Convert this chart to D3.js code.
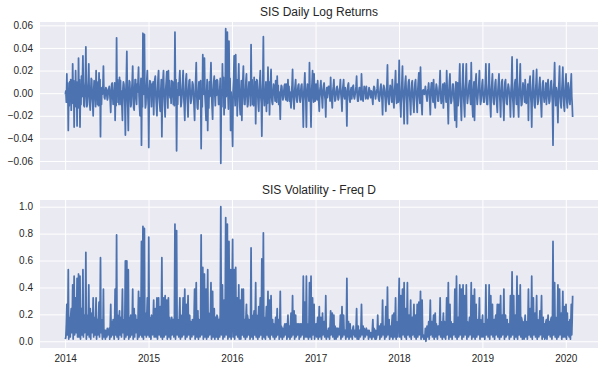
<!DOCTYPE html>
<html><head><meta charset="utf-8">
<script src="https://cdn.jsdelivr.net/npm/d3@7"></script>
<style>
body{margin:0;background:#fff}
svg{display:block}
text{font-family:"Liberation Sans",Arial,sans-serif;fill:#262626}
</style></head>
<body><svg id="chart" width="604" height="372"></svg>
<script>
// ---- data (daily log returns) ----
const ret2014 = [-.001,.002,-.008,.017,-.003,.009,-.033,.001,-.011,.010,-.002,.012,-.015,.004,-.009,.026,-.001,.011,-.030,.003,-.012,.020,-.004,.010,-.029,.002,-.013,.031,-.002,.012,-.030,.001,-.010,.015,-.003,.012,.033,.002,-.011,-.012,.004,.010,.041,-.001,-.012,-.010,.003,.011,.026,-.002,-.010,-.015,.001,.013,.012,-.004,-.009,-.020,.002,.011,.010,-.003,-.012,.020,.001,.010,-.010,.003,-.011,.018,-.002,.012,-.0385,.004,-.010,.005,-.001,.005,.024,.002,-.004,-.005,.001,.005,.004,-.002,-.006,-.004,.003,.004,.006,-.001,-.007,-.017,.002,.008,.009,-.003,-.010,-.005,.001,.009,-.024,.003,-.011,.049,-.002,.012,-.008,.001,-.010,.014,-.003,.011,-.010,.002,-.012,-.024,.004,.010,.008,-.001,-.011,-.037,.002,.012,.037,-.003,-.013,-.033,.001,.011,.010,-.002,-.012,-.010,.003,.010,.024,-.001,-.013,-.015,.002,.012,.012,-.004,-.010,.008,.001,.011,.023,-.002,-.012,-.020,.003,.013,-.046,.002,-.012,.053,-.001,.014,.052,.003,-.013,-.010,.002,.012,.020,-.003,-.011];
const ret2015 = [-.048,.002,.011,.010,-.001,-.012,.008,-.003,.010,-.019,.002,.012,.015,-.002,-.011,-.020,.001,.013,.020,-.003,-.010,-.016,.002,.012,-.0385,.001,.011,.020,-.002,-.012,-.021,.003,.010,.019,-.001,-.013,.020,-.002,.011,-.004,.001,-.009,.011,-.003,.010,-.010,.002,-.011,.054,-.001,.012,-.051,.003,-.010,.009,-.002,.011,.020,.001,-.012,-.008,.002,.010,.020,-.003,-.011,-.024,.001,.012,.017,-.002,-.010,-.021,.003,.011,.012,-.001,-.009,-.006,.002,.010,.008,-.003,-.011,-.024,.001,.012,.027,-.002,-.013,-.014,.001,.010,-.005,.002,.011,-.049,.003,-.012,.034,-.001,.013,.031,-.002,-.011,-.024,.001,.012,-.033,.002,-.013,.010,-.003,.011,.027,.001,-.012,-.023,.002,.010,.015,-.001,-.011,.011,-.002,.012,.011,.001,-.010,-.010,.002,.013,-.062,.003,-.012,.026,-.001,.014,-.019,.002,-.013,.057,-.003,.012,.054,.001,-.014,.046,-.002,.013,-.033,.001,-.012];
const ret2016 = [-.047,.002,.012,.033,-.001,-.011,.034,-.003,.012,-.020,.002,.010,.026,-.001,-.012,-.019,.001,.011,-.024,.003,.012,.024,-.002,-.010,-.010,.001,.011,.017,-.002,-.012,-.010,.003,.010,.008,-.001,-.011,.043,-.002,.012,-.010,.001,-.011,.014,-.003,.010,-.027,.002,.012,.011,-.001,-.010,-.016,.002,.011,.020,-.003,-.009,-.038,.001,.012,.050,-.002,-.011,.002,.001,.010,-.016,.003,-.009,.023,-.002,.010,-.019,.001,.009,.021,-.003,-.008,-.010,.002,.008,.005,-.001,-.007,.011,.002,-.008,.015,-.003,.007,-.010,.001,-.008,-.023,.002,.007,.006,-.001,-.006,-.004,.002,.007,.008,-.003,-.006,.008,.001,-.007,.012,-.002,.006,-.007,.001,-.008,-.013,.002,.007,.021,-.003,-.008,-.014,.001,.007,.012,-.002,-.006,-.008,.003,.007,.008,-.001,-.006,-.008,.002,.007,.008,-.003,-.008,-.030,.001,.008,.018,-.002,-.007,-.030,.002,.008,.005,-.001,-.007,.027,.002,-.008,-.030,.001,.009,.020,-.003,-.008,.017,.001,-.007];
const ret2017 = [.008,-.002,-.006,.011,.001,-.007,-.016,.002,.006,.011,-.001,-.005,-.013,.003,.007,.009,-.002,-.006,-.021,.001,.005,-.004,.002,.006,.006,-.001,-.007,.014,-.003,-.005,-.013,.002,.006,.012,-.001,-.007,-.006,.001,.005,.006,-.002,-.006,-.004,.003,.005,.012,-.001,-.006,-.016,.002,.007,.012,-.003,-.005,.005,.001,-.006,-.029,.002,.007,.009,-.001,-.006,-.008,.002,.005,-.005,.001,.006,.007,-.003,-.005,-.002,.002,.006,.015,-.001,-.007,-.007,.001,.005,.005,-.002,-.006,.017,.003,-.005,-.007,-.001,.006,.004,.002,-.005,.006,-.003,-.004,-.005,.001,.005,.003,-.002,-.004,.002,.001,-.005,-.010,.002,.006,.005,-.001,-.005,-.001,.002,.004,.012,-.003,-.006,-.007,.001,.005,.008,-.002,-.006,-.019,.003,.007,.005,-.001,-.006,-.016,.002,.007,.025,-.003,-.008,-.010,.001,.007,.005,-.002,-.008,.012,.001,-.007,-.013,.002,.008,.020,-.001,-.009,.008,.002,-.008];
const ret2018 = [.029,-.002,-.009,-.021,.001,.010,.024,-.003,-.009,-.027,.002,.010,.015,-.001,-.009,-.027,.003,.010,.012,-.002,-.008,-.019,.001,.009,.011,-.003,-.010,-.017,.002,.009,.012,-.001,-.008,-.017,.002,.010,.018,-.003,-.009,.023,.001,-.010,-.019,.002,.003,.001,-.001,.002,.006,.000,-.003,-.007,.002,.004,.009,-.001,-.008,-.019,.003,.009,.009,-.002,-.008,.012,.001,-.009,-.013,.002,.008,.005,-.001,-.007,-.007,.003,.008,.020,-.002,-.009,-.005,.001,.008,-.013,.002,.009,.002,-.001,-.008,.020,.003,-.009,-.027,.001,.010,.017,-.002,-.009,-.007,.001,.008,.008,-.003,-.009,-.024,.002,.010,-.030,.001,.009,-.011,.002,.010,.026,-.003,-.011,-.024,.001,.010,.026,-.002,-.011,-.021,.003,.010,.026,-.001,-.009,-.004,.002,.008,.011,-.003,-.010,.027,.001,-.011,-.021,.002,.010,-.024,.001,.011,.017,-.002,-.010,-.004,.003,.009,.020,-.001,-.010,-.007,.002,.009];
const ret2019 = [.012,-.002,-.008,-.008,.001,.009,.026,-.003,-.010,-.010,.002,.009,.026,-.001,-.010,-.021,.003,.009,.017,-.002,-.008,-.010,.001,.009,.012,-.003,-.010,-.017,.002,.009,.017,-.001,-.008,-.021,.002,.010,.012,-.003,-.009,-.024,.001,.010,.012,-.002,-.009,-.010,.003,.008,.005,-.001,-.007,-.021,.002,.009,.032,-.003,-.010,-.021,.001,.009,.012,-.002,-.010,.030,.001,-.009,-.021,.003,.010,.026,-.002,-.011,-.010,.001,.009,.005,-.001,-.008,.012,.002,-.009,-.008,-.001,.008,-.024,.003,.010,.015,-.002,-.009,-.030,.001,.010,.020,-.003,-.011,-.013,.002,.009,.021,-.001,-.010,-.007,.002,.009,.014,-.003,-.010,-.021,.001,.009,.011,-.002,-.008,-.001,.002,.009,-.010,.001,.008,.012,-.003,-.009,-.007,.002,.010,.011,-.001,-.009,-.046,.003,.010,.027,-.002,-.011,.005,.001,-.009,-.026,.002,.010,.024,-.003,-.009,-.013,.001,.010,.023,-.002,-.011,-.016,.002,.010];
const ret2020 = [.017,-.001,-.008,-.013,.003,.009,.005,-.002,-.008,-.010,.001,.009,.017,-.003,-.010,-.021];

// first / last trading day covered by each yearly block
const yearBlocks = [
  {values: ret2014, from: "2014-01-02", to: "2014-12-31"},
  {values: ret2015, from: "2015-01-02", to: "2015-12-31"},
  {values: ret2016, from: "2016-01-04", to: "2016-12-30"},
  {values: ret2017, from: "2017-01-03", to: "2017-12-29"},
  {values: ret2018, from: "2018-01-02", to: "2018-12-31"},
  {values: ret2019, from: "2019-01-02", to: "2019-12-31"},
  {values: ret2020, from: "2020-01-02", to: "2020-01-31"}
];

const yearTicks = ["2014","2015","2016","2017","2018","2019","2020"];
const retTicks = [-0.06,-0.04,-0.02,0,0.02,0.04,0.06];
const volTicks = [0,0.2,0.4,0.6,0.8,1.0];
const titles = ["SIS Daily Log Returns","SIS Volatility - Freq D"];

// ---- build series ----
const parse = d3.timeParse("%Y-%m-%d");
const returns = [];
yearBlocks.forEach(b => {
  const t0 = parse(b.from).getTime(), t1 = parse(b.to).getTime(), n = b.values.length;
  b.values.forEach((v, i) => returns.push({date: new Date(t0 + (t1 - t0) * i / (n - 1)), value: v}));
});
// volatility = |return| scaled by the largest absolute return
const maxAbs = d3.max(returns, d => Math.abs(d.value));
const volatility = returns.map(d => ({date: d.date, value: Math.abs(d.value) / maxAbs}));

// ---- drawing ----
const svg = d3.select("#chart");
const L = 40, R = 598;
const panels = [
  {top: 22, bottom: 170, data: returns, ticks: retTicks, fmt: d3.format(".2f"), title: titles[0], xlabels: false},
  {top: 200, bottom: 348, data: volatility, ticks: volTicks, fmt: d3.format(".1f"), title: titles[1], xlabels: true}
];

const tExt = d3.extent(returns, d => d.date);
const tPad = (tExt[1] - tExt[0]) * 0.05;
const x = d3.scaleTime().domain([new Date(+tExt[0] - tPad), new Date(+tExt[1] + tPad)]).range([L, R]);
const yearDates = yearTicks.map(y => parse(y + "-01-01"));

panels.forEach((p, k) => {
  const ext = d3.extent(p.data, d => d.value);
  const pad = (ext[1] - ext[0]) * 0.05;
  const y = d3.scaleLinear().domain([ext[0] - pad, ext[1] + pad]).range([p.bottom, p.top]);
  const h = p.bottom - p.top, w = R - L;
  const g = svg.append("g");
  g.append("rect").attr("x", L).attr("y", p.top).attr("width", w).attr("height", h).attr("fill", "#EAEAF2");

  const gx = g.append("g").attr("transform", `translate(0,${p.bottom})`)
    .call(d3.axisBottom(x).tickValues(yearDates).tickSize(-h).tickFormat(""));
  const gy = g.append("g").attr("transform", `translate(${L},0)`)
    .call(d3.axisLeft(y).tickValues(p.ticks).tickSize(-w).tickFormat(""));
  [gx, gy].forEach(a => {
    a.select(".domain").remove();
    a.selectAll("line").attr("stroke", "#fff").attr("stroke-width", 1);
  });

  const ly = g.append("g").attr("transform", `translate(${L},0)`)
    .call(d3.axisLeft(y).tickValues(p.ticks).tickSize(0).tickPadding(7).tickFormat(p.fmt));
  ly.select(".domain").remove();
  ly.selectAll("text").attr("font-size", 10).attr("font-family", null).attr("fill", "#262626");
  if (p.xlabels) {
    const lx = g.append("g").attr("transform", `translate(0,${p.bottom})`)
      .call(d3.axisBottom(x).tickValues(yearDates).tickSize(0).tickPadding(7).tickFormat((d, i) => yearTicks[i]));
    lx.select(".domain").remove();
    lx.selectAll("text").attr("font-size", 10).attr("font-family", null).attr("fill", "#262626");
  }

  const clipId = "clip" + k;
  svg.append("clipPath").attr("id", clipId).append("rect")
    .attr("x", L).attr("y", p.top).attr("width", w).attr("height", h);
  g.append("path").datum(p.data)
    .attr("clip-path", `url(#${clipId})`)
    .attr("fill", "none").attr("stroke", "#4C72B0").attr("stroke-width", 1.75)
    .attr("stroke-linejoin", "round")
    .attr("d", d3.line().x(d => x(d.date)).y(d => y(d.value)));

  g.append("text").attr("x", (L + R) / 2).attr("y", p.top - 6)
    .attr("text-anchor", "middle").attr("font-size", 12).text(p.title);
});
</script>
</body></html>
